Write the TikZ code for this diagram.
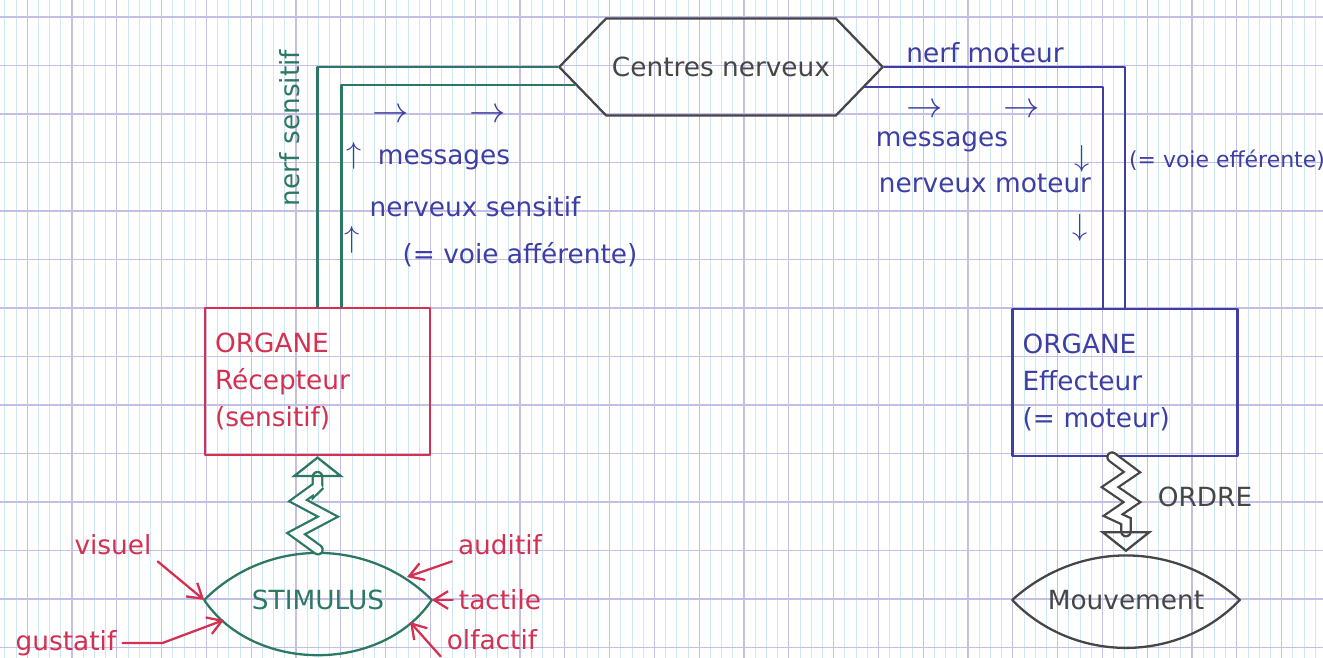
\documentclass[tikz,border=0pt]{standalone}
\usepackage{fontspec}
\setmainfont{DejaVu Sans}
\usetikzlibrary{arrows.meta,shapes.symbols}

\definecolor{vert}{RGB}{45,120,100}
\definecolor{rouge}{RGB}{212,48,82}
\definecolor{bleu}{RGB}{62,62,165}
\definecolor{crayon}{RGB}{70,70,70}
\definecolor{seyes}{RGB}{198,190,228}
\definecolor{seyesfin}{RGB}{205,232,238}

\begin{document}
\begin{tikzpicture}[x=0.02cm,y=-0.02cm,font=\fontsize{15}{21}\selectfont]
  \useasboundingbox (0,0) rectangle (1323,658);
  %papier
  \fill[white] (0,0) rectangle (1323,658);
  \foreach \x in {4.8,16,...,1323} \draw[seyesfin,line width=0.5pt] (\x,0) -- (\x,658);
  \foreach \x in {27.2,72,...,1323} \draw[seyes,line width=0.7pt] (\x,0) -- (\x,658);
  \foreach \y in {17,65.5,...,658} \draw[seyes,line width=0.7pt] (0,\y) -- (1323,\y);

  \tikzstyle{Trait}=[line width=1.3pt,line cap=round,line join=round]
  \tikzstyle{OrganeStyle}=[draw,Trait,align=left,text width=4.1cm,inner sep=0.2cm,minimum height=2.94cm]
  \tikzstyle{ZigStyle}=[Trait,line join=miter,double=white,double distance=4pt,-{Triangle[open,length=12pt,width=30pt]}]
  \tikzstyle{StimArrow}=[rouge,Trait,-{Straight Barb[length=8pt,width=10pt]}]
  \tikzstyle{Fleche}=[text=bleu,font=\fontsize{20}{20}\selectfont]

  \node[draw=crayon,text=crayon,Trait,shape=signal,signal to=west and east,signal pointer angle=92,
        minimum width=6.34cm,minimum height=1.94cm] (centres) at (721,67) {Centres nerveux};
  \node[OrganeStyle,draw=rouge,text=rouge] (recep) at (317.5,381.5) {ORGANE\\Récepteur\\(sensitif)};
  \node[OrganeStyle,draw=bleu,text=bleu] (effect) at (1125,382.5) {ORGANE\\Effecteur\\(= moteur)};
  \node[text=vert,minimum width=4.54cm,minimum height=2cm] (stim) at (318,600) {STIMULUS};
  \node[text=crayon,minimum width=4.54cm,minimum height=1.9cm] (mouv) at (1126,600) {Mouvement};

  \draw[vert,Trait] (stim.west) to[bend left=45] (stim.east) to[bend left=56] (stim.west);
  \draw[crayon,Trait] (mouv.west) to[bend left=42] (mouv.east) to[bend left=46] (mouv.west);

  %nerfs
  \draw[vert,Trait] (recep.north) |- (centres.west);
  \draw[vert,Trait] ([xshift=0.48cm]recep.north) |- (centres.187);
  \draw[bleu,Trait] (centres.east) -| (effect.north);
  \draw[bleu,Trait] (centres.352) -| ([xshift=-0.44cm]effect.north);

  \node[text=vert,rotate=90] (nsens) at (290,128) {nerf sensitif};
  \node[text=bleu] (nmot) at (985,53) {nerf moteur};

  \node[Fleche] (fl1) at (391,116) {$\rightarrow$};
  \node[Fleche] (fl2) at (488,116) {$\rightarrow$};
  \node[Fleche,font=\fontsize{18}{18}\selectfont] (up1) at (354,156) {$\uparrow$};
  \node[Fleche,font=\fontsize{18}{18}\selectfont] (up2) at (352,240) {$\uparrow$};
  \node[text=bleu] (msgS) at (444,160) {messages};
  \node[text=bleu] (nervS) at (475,207) {nerveux sensitif};
  \node[text=bleu] (voieS) at (520,255) {(= voie afférente)};

  \node[Fleche] (fl3) at (925,111) {$\rightarrow$};
  \node[Fleche] (fl4) at (1022,111) {$\rightarrow$};
  \node[Fleche,font=\fontsize{18}{18}\selectfont] (dn1) at (1082,159) {$\downarrow$};
  \node[Fleche,font=\fontsize{18}{18}\selectfont] (dn2) at (1080,228) {$\downarrow$};
  \node[text=bleu] (msgM) at (942,142) {messages};
  \node[text=bleu] (nervM) at (985,183) {nerveux moteur};
  \node[text=bleu,font=\fontsize{12.5}{14}\selectfont] (voieM) at (1227,160) {(= voie efférente)};

  %influx
  \draw[ZigStyle,vert] (stim.north) -- ++(-22,-16) -- ++(32,-17) -- ++(-30,-16) -- ++(22,-16)
       -- ([yshift=-0.62cm]recep.south) -- (recep.south);
  \draw[ZigStyle,crayon] ([xshift=-0.26cm]effect.south) -- ++(20,15) -- ++(-22,15) -- ++(22,15)
       -- ++(-19,13) -- ([yshift=0.62cm]mouv.north) -- (mouv.north);
  \node[text=crayon] (ordre) at (1205,497) {ORDRE};

  \node[text=rouge] (visuel) at (113,545) {visuel};
  \node[text=rouge] (gustatif) at (66,643) {gustatif};
  \node[text=rouge] (auditif) at (500,545) {auditif};
  \node[text=rouge] (tactile) at (500,600) {tactile};
  \node[text=rouge] (olfactif) at (492,640) {olfactif};
  \coordinate (stimG) at (224,620);
  \coordinate (stimA) at (407,577);
  \coordinate (stimO) at (410,622);

  \draw[StimArrow] (visuel.south east) -- (stim.west);
  \draw[StimArrow] (gustatif.east) -- ++(40,0) -- (stimG);
  \draw[StimArrow] (auditif.south west) -- (stimA);
  \draw[StimArrow] (tactile.west) -- (stim.east);
  \draw[StimArrow] (olfactif.south west) -- (stimO);

\end{tikzpicture}
\end{document}
